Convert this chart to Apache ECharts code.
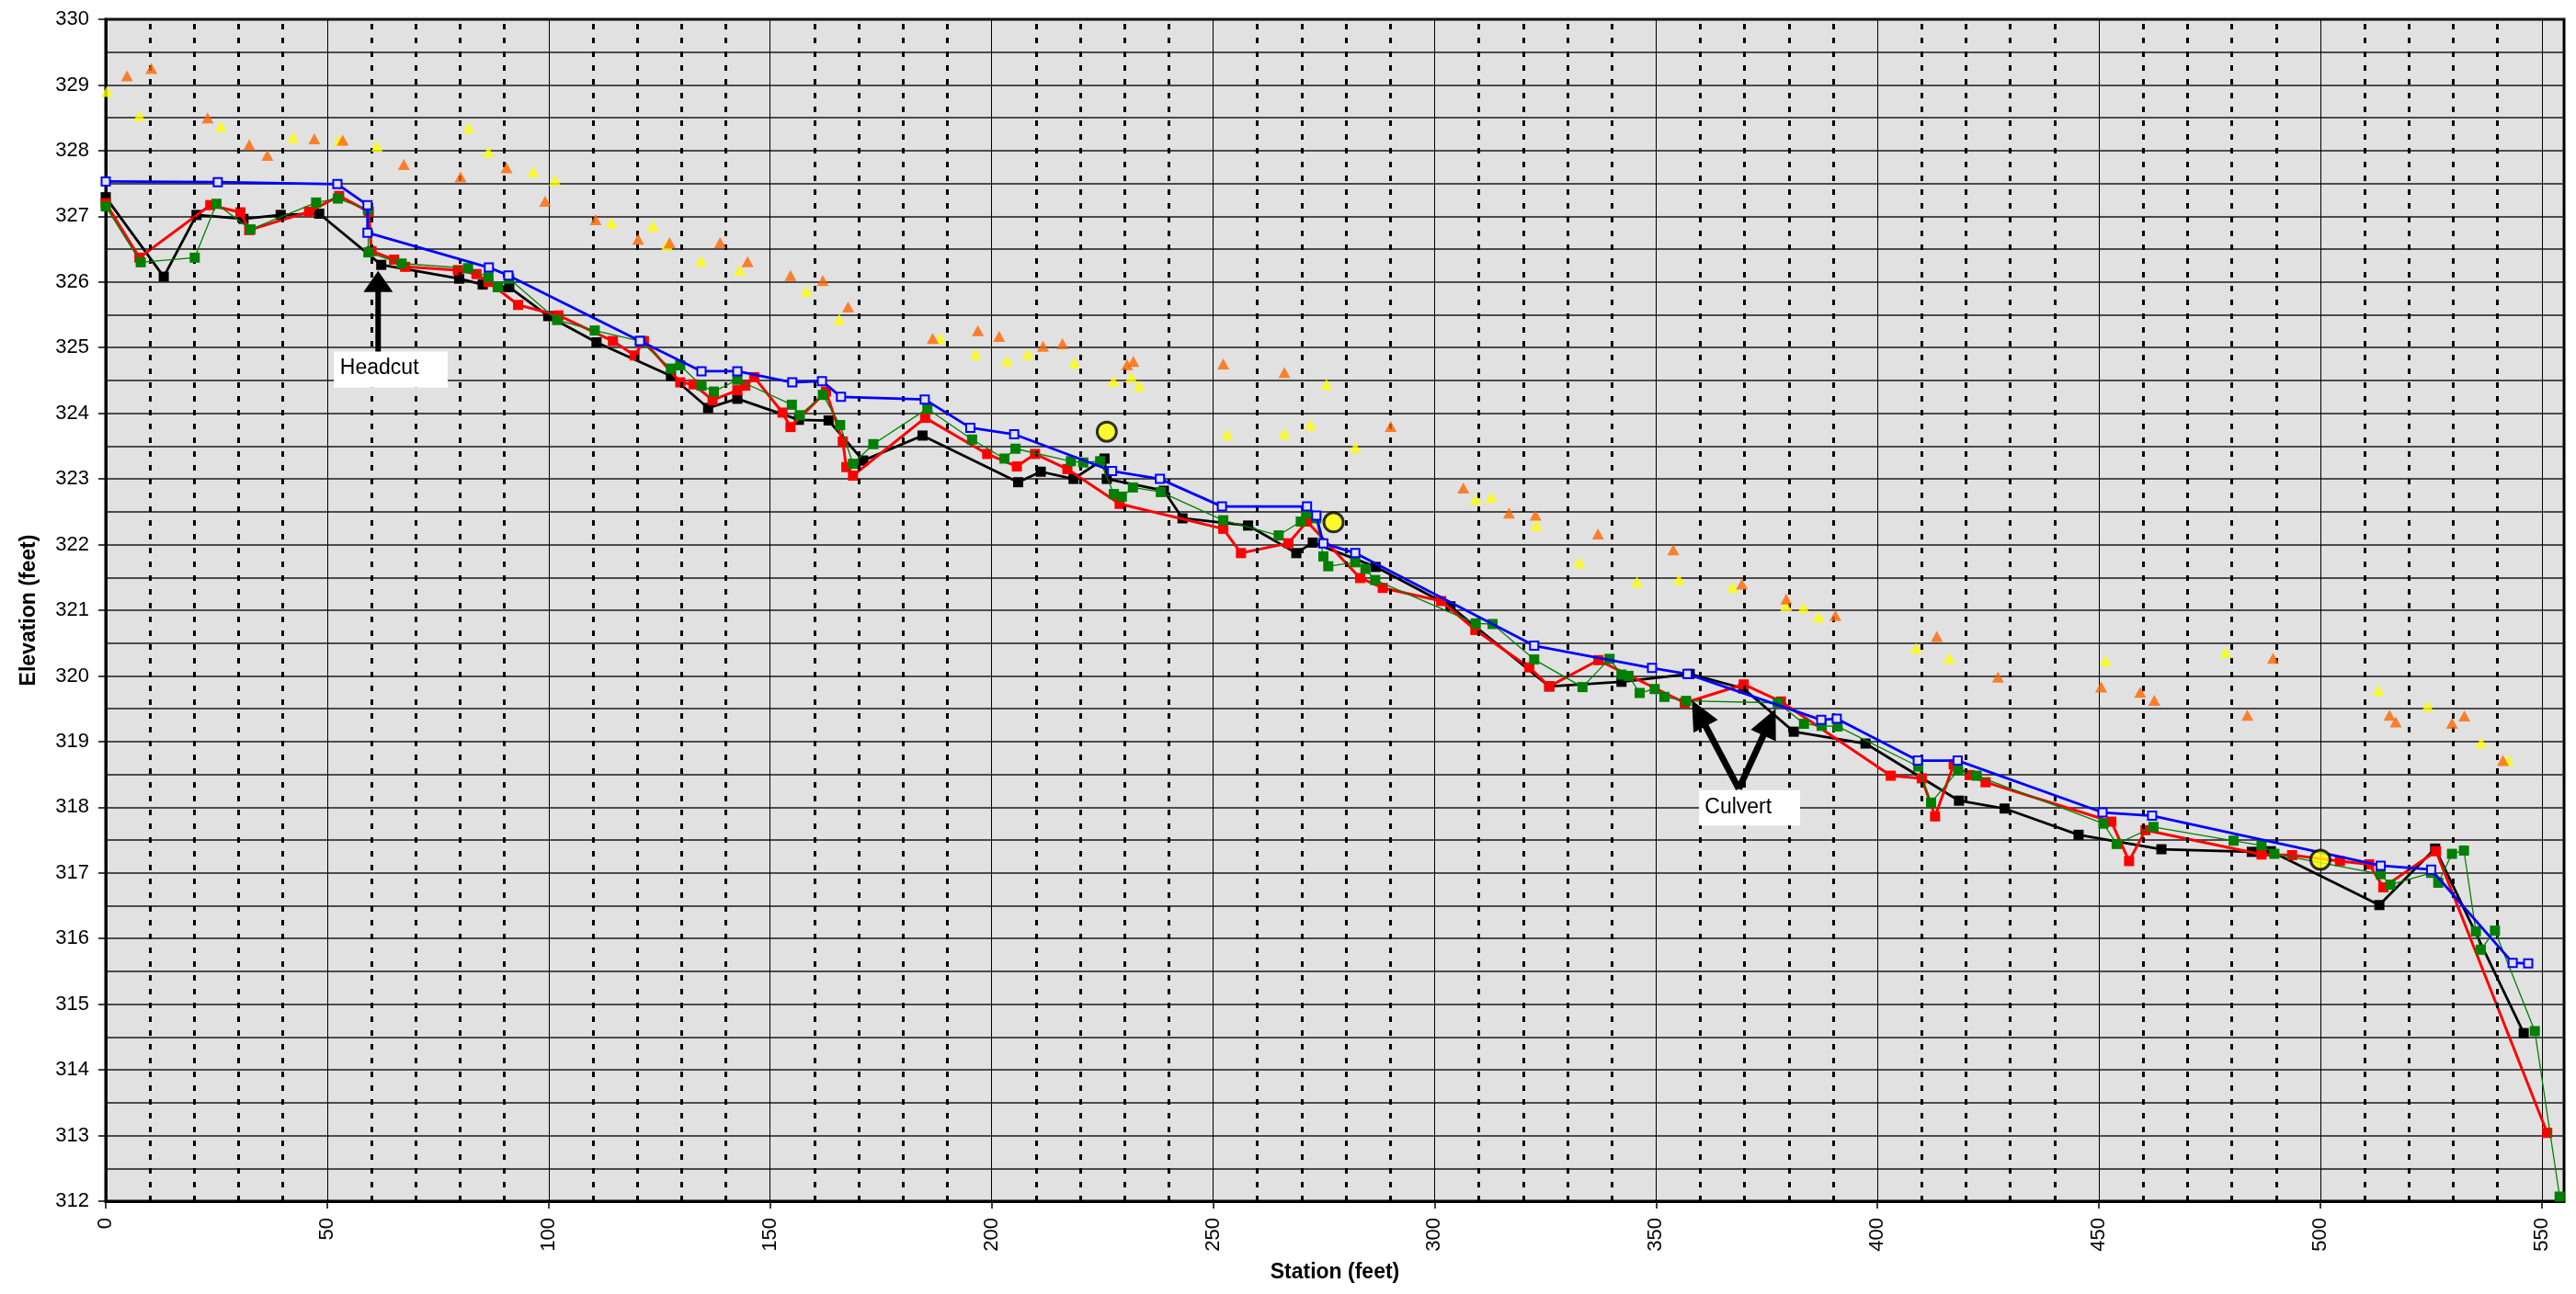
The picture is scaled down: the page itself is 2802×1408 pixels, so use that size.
<!DOCTYPE html>
<html><head><meta charset="utf-8">
<script src="https://cdn.jsdelivr.net/npm/echarts/dist/echarts.min.js"></script>
<style>html,body{margin:0;padding:0;background:#fff;}#chart{width:2802px;height:1408px;}</style>
</head><body><div id="chart"></div>
<script>
// ---------------- DATA ----------------
const xAxisTitle = 'Station (feet)';
const yAxisTitle = 'Elevation (feet)';

const blackProfile = [[0,327.29],[13.1,326.08],[20.5,327.02],[31.1,326.96],[39.5,327.02],[48.2,327.04],[62.2,326.26],[79.8,326.05],[85.1,325.96],[91.1,325.92],[99.9,325.48],[110.8,325.08],[127.6,324.57],[136,324.08],[142.6,324.22],[156.5,323.9],[163.2,323.89],[171,323.28],[184.4,323.66],[206,322.95],[211.1,323.11],[218.5,323.0],[225.5,323.31],[226,323.0],[238.9,322.82],[243.1,322.4],[257.9,322.29],[268.8,321.87],[272.5,322.03],[286.7,321.66],[303.6,321.06],[325.9,319.84],[342.2,319.91],[357.6,320.03],[369.7,319.81],[381.1,319.15],[397.3,318.97],[418.4,318.1],[428.7,317.98],[445.4,317.58],[464.1,317.36],[484.5,317.32],[488.8,317.33],[513.3,316.51],[525.9,317.37],[545.9,314.56]];

const redProfile = [[0,327.2],[7.6,326.37],[23.6,327.17],[30.4,327.06],[32.4,326.79],[45.9,327.07],[52.7,327.31],[59.4,327.07],[60.0,326.47],[65.1,326.34],[67.6,326.23],[79.5,326.18],[83.7,326.12],[86.4,326.0],[93.1,325.65],[102.2,325.49],[114.5,325.1],[119.4,324.88],[121.5,325.1],[129.7,324.47],[132.7,324.44],[137,324.2],[142.6,324.35],[144.4,324.42],[146.4,324.55],[152.8,324.01],[154.6,323.79],[162.6,324.33],[166.4,323.57],[167.2,323.18],[168.7,323.05],[185,323.93],[199,323.38],[205.7,323.19],[209.8,323.38],[217.1,323.15],[228.9,322.62],[252.3,322.24],[256.3,321.87],[267,322.02],[271.2,322.35],[283.2,321.49],[288.3,321.34],[301.5,321.14],[309.2,320.7],[321.4,320.13],[325.9,319.84],[337,320.24],[356.5,319.59],[369.8,319.87],[378.2,319.61],[403,318.48],[410,318.44],[413,317.86],[417.2,318.65],[420.8,318.49],[424.4,318.38],[452.8,317.78],[456.8,317.18],[460.5,317.65],[486.7,317.28],[493.6,317.27],[504.4,317.18],[511,317.13],[514.2,316.78],[526.1,317.33],[551.2,313.04]];

const greenProfile = [[0,327.15],[7.9,326.30],[20.1,326.37],[25.0,327.19],[32.7,326.80],[47.5,327.21],[52.4,327.27],[59.2,327.10],[59.3,326.45],[66.8,326.28],[81.8,326.21],[86.4,326.07],[88.5,325.92],[91.1,326.05],[101.9,325.42],[110.4,325.26],[120.6,325.1],[127.6,324.68],[129.7,324.73],[134.5,324.42],[137.3,324.33],[142.6,324.51],[154.9,324.13],[156.7,323.97],[161.9,324.28],[165.8,323.82],[168.7,323.23],[173.3,323.53],[185.5,324.07],[195.6,323.6],[202.9,323.31],[205.4,323.46],[217.9,323.27],[220.7,323.25],[224.5,323.27],[227.6,322.77],[229.4,322.73],[231.9,322.87],[238.2,322.8],[252.3,322.37],[264.8,322.14],[269.8,322.35],[271,322.47],[273.3,322.4],[274.9,321.82],[276,321.67],[282.1,321.73],[284.4,321.63],[286.6,321.46],[309.3,320.8],[313.1,320.79],[322.5,320.25],[333.4,319.83],[339.5,320.26],[342.2,320.02],[343.8,320.0],[346.3,319.74],[349.7,319.8],[351.9,319.68],[356.8,319.62],[377.5,319.59],[383.4,319.27],[387.4,319.24],[391,319.23],[409.2,318.62],[412.1,318.07],[418.2,318.56],[422.4,318.48],[451,317.75],[454,317.44],[462.3,317.70],[480.4,317.49],[486.7,317.42],[489.6,317.29],[513.6,316.98],[515.8,316.82],[525,317.0],[526.6,316.85],[529.7,317.29],[532.4,317.34],[535.1,316.11],[536.2,315.83],[539.4,316.12],[548.4,314.59],[554,312.07]];

const blueProfile = [[0,327.53],[25.3,327.52],[52.3,327.49],[59.1,327.17],[59.1,326.75],[86.5,326.22],[90.9,326.10],[120.6,325.1],[134.5,324.64],[142.6,324.64],[155,324.47],[161.7,324.49],[166,324.25],[184.9,324.21],[195.2,323.78],[205.1,323.68],[227.2,323.12],[238,323.0],[252,322.58],[271.2,322.58],[273.3,322.44],[274.9,322.02],[282.1,321.87],[322.5,320.46],[349.1,320.12],[357.1,320.03],[387.3,319.33],[390.8,319.35],[409.1,318.71],[418.1,318.71],[450.8,317.92],[462,317.87],[513.6,317.11],[525,317.05],[543.4,315.63],[546.9,315.62]];

const orangePoints = [[4.8,329.14],[10.3,329.25],[23.0,328.5],[32.4,328.09],[36.5,327.93],[47.1,328.18],[53.5,328.16],[67.3,327.79],[80.1,327.6],[90.5,327.74],[99.2,327.23],[110.6,326.95],[120.2,326.65],[127.3,326.6],[138.7,326.6],[144.9,326.31],[154.6,326.1],[161.9,326.02],[167.6,325.62],[186.7,325.14],[196.9,325.26],[201.7,325.17],[211.6,325.02],[216.0,325.06],[230.6,324.74],[232.0,324.79],[252.3,324.75],[266.1,324.62],[290.1,323.8],[306.5,322.86],[316.8,322.48],[322.8,322.45],[336.9,322.16],[353.9,321.92],[369.4,321.4],[379.4,321.17],[390.5,320.92],[413.4,320.6],[427.2,319.98],[450.5,319.83],[459.3,319.75],[462.5,319.63],[483.5,319.4],[489.3,320.27],[515.6,319.4],[517,319.3],[529.7,319.28],[532.5,319.39],[541.2,318.71]];

const yellowPoints = [[0.3,328.9],[7.6,328.53],[26.0,328.37],[42.3,328.2],[52.7,328.16],[61.2,328.07],[81.9,328.35],[86.4,327.98],[96.5,327.68],[101.4,327.55],[114.2,326.9],[123.5,326.85],[126.7,326.56],[134.4,326.32],[143.1,326.18],[158.2,325.86],[165.6,325.43],[188.4,325.14],[196.4,324.9],[203.5,324.8],[208.2,324.9],[218.7,324.77],[227.5,324.49],[231.5,324.55],[233.3,324.42],[253.2,323.68],[266.1,323.69],[272,323.82],[275.6,324.44],[282.1,323.48],[309.3,322.69],[312.8,322.72],[323,322.29],[332.7,321.73],[345.7,321.43],[355.2,321.47],[367.3,321.35],[379.4,321.07],[383.3,321.04],[386.7,320.9],[408.7,320.42],[416.2,320.27],[451.5,320.23],[478.6,320.36],[513.1,319.78],[524.2,319.54],[536.3,318.98],[542.4,318.72]];

const yellowCircles = [[226,323.72],[277.2,322.34],[500,317.2]];

const dashedStations = [10,20,30,40,60,70,80,90,110,120,130,140,160,170,180,190,210,220,230,240,260,270,280,290,310,320,330,340,360,370,380,390,410,420,430,440,460,470,480,490,510,520,530,540];

// annotation: [tailX, tailY, tipX, tipY]
const headcutArrows = [[61.5,324.94,61.5,326.17]];
const culvertArrows = [[368.7,318.28,358.1,319.63],[368.7,318.28,377.0,319.5]];
// text boxes: [x0, yTop, x1, yBottom, textX, textY]
const annotationLabels = ['Headcut','Culvert'];
const annotationBoxes = [[51.5,324.94,77.2,324.39,52.9,324.68],[359.7,318.26,382.5,317.72,361.0,318.0]];

// ---------------- CHART ----------------
const FONT = '"Liberation Sans", Arial, sans-serif';
const chart = echarts.init(document.getElementById('chart'), null, {renderer:'canvas'});

function arrowRenderer(shaftW, headLen, headW) {
  return function(params, api) {
    const p0 = api.coord([api.value(0), api.value(1)]);
    const p1 = api.coord([api.value(2), api.value(3)]);
    const dx = p1[0]-p0[0], dy = p1[1]-p0[1];
    const L = Math.hypot(dx, dy);
    const ux = dx/L, uy = dy/L, nx = -uy, ny = ux;
    const bx = p1[0]-ux*headLen, by = p1[1]-uy*headLen;
    return {type:'group', children:[
      {type:'line', shape:{x1:p0[0], y1:p0[1], x2:bx+ux*2, y2:by+uy*2}, style:{stroke:'#000', lineWidth:shaftW}},
      {type:'polygon', shape:{points:[[p1[0],p1[1]],[bx+nx*headW/2, by+ny*headW/2],[bx-nx*headW/2, by-ny*headW/2]]}, style:{fill:'#000'}}
    ]};
  };
}

const option = {
  animation: false,
  backgroundColor: '#ffffff',
  grid: {left:115, right:13, top:21, bottom:101, show:true, backgroundColor:'#e1e1e1', borderColor:'#000', borderWidth:3},
  xAxis: {
    type:'value', min:0, max:555, interval:50,
    name: xAxisTitle, nameLocation:'middle', nameGap:66,
    nameTextStyle:{fontFamily:FONT, fontSize:23, fontWeight:'bold', color:'#000'},
    axisLine:{show:true, lineStyle:{color:'#000', width:3}},
    axisTick:{show:true, length:8, inside:false, lineStyle:{color:'#000', width:1.5}},
    axisLabel:{rotate:90, margin:18, fontFamily:FONT, fontSize:22, color:'#000', showMaxLabel:false,
      formatter: v => (v % 50 === 0 ? String(v) : '')},
    splitLine:{show:true, lineStyle:{color:'#000', width:1}}
  },
  yAxis: {
    type:'value', min:312, max:330, interval:1,
    name: yAxisTitle, nameLocation:'middle', nameGap:72, nameRotate:90,
    nameTextStyle:{fontFamily:FONT, fontSize:23, fontWeight:'bold', color:'#000'},
    axisLine:{show:true, lineStyle:{color:'#000', width:3}},
    axisTick:{show:true, length:8, lineStyle:{color:'#000', width:1.5}},
    axisLabel:{margin:18, fontFamily:FONT, fontSize:22, color:'#000'},
    splitLine:{show:true, lineStyle:{color:'#1a1a1a', width:1.5}},
    minorTick:{show:false, splitNumber:2},
    minorSplitLine:{show:true, lineStyle:{color:'#1a1a1a', width:1.5}}
  },
  series: [
    {type:'line', data:[], z:1, silent:true,
      markLine:{silent:true, symbol:['none','none'], animation:false,
        lineStyle:{type:[6,9], color:'#000', width:3}, label:{show:false},
        emphasis:{disabled:true},
        data: dashedStations.map(v => ({xAxis:v}))}},
    {name:'black', type:'line', data:blackProfile, z:3, symbol:'rect', symbolSize:11,
      itemStyle:{color:'#000'}, lineStyle:{color:'#000', width:2.8}},
    {name:'red', type:'line', data:redProfile, z:4, symbol:'rect', symbolSize:11,
      itemStyle:{color:'#ff0000'}, lineStyle:{color:'#ff0000', width:3}},
    {name:'green', type:'line', data:greenProfile, z:5, symbol:'rect', symbolSize:11,
      itemStyle:{color:'#008000'}, lineStyle:{color:'#008000', width:1.3}},
    {name:'blue', type:'line', data:blueProfile, z:6, symbol:'rect', symbolSize:9,
      itemStyle:{color:'#e1e1e1', borderColor:'#0000ff', borderWidth:2}, lineStyle:{color:'#0000ff', width:2.8}},
    {name:'yellowTri', type:'scatter', data:yellowPoints, z:7, symbol:'triangle', symbolSize:[13,12],
      itemStyle:{color:'#ffff00'}},
    {name:'orangeTri', type:'scatter', data:orangePoints, z:8, symbol:'triangle', symbolSize:[13,12],
      itemStyle:{color:'#ff6600'}},
    {name:'circles', type:'scatter', data:yellowCircles, z:9, symbol:'circle', symbolSize:21,
      itemStyle:{color:'#ffff00', borderColor:'#000', borderWidth:3}},
    {type:'custom', data:annotationBoxes, z:10, silent:true,
      renderItem:(params, api) => {
        const a = api.coord([api.value(0), api.value(1)]);
        const b = api.coord([api.value(2), api.value(3)]);
        const t = api.coord([api.value(4), api.value(5)]);
        return {type:'group', children:[
          {type:'rect', shape:{x:a[0], y:a[1], width:b[0]-a[0], height:b[1]-a[1]}, style:{fill:'#fff'}},
          {type:'text', style:{x:t[0], y:t[1], text:annotationLabels[params.dataIndex], fill:'#000',
            font:'23px ' + FONT, textAlign:'left', textVerticalAlign:'middle'}}
        ]};
      }},
    {type:'custom', data:headcutArrows, z:11, silent:true, renderItem:arrowRenderer(6, 23, 32)},
    {type:'custom', data:culvertArrows, z:11, silent:true, renderItem:arrowRenderer(7, 32, 30)}
  ]
};
chart.setOption(option);
</script></body></html>
